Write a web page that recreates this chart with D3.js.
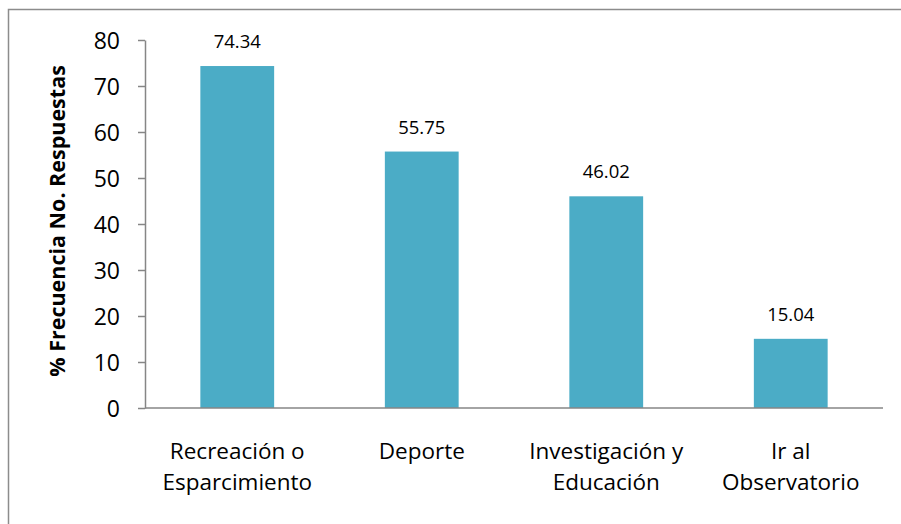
<!DOCTYPE html>
<html>
<head>
<meta charset="utf-8">
<script src="https://cdn.jsdelivr.net/npm/d3@7"></script>
<style>
  html, body { margin: 0; padding: 0; background: #fff; }
  svg { display: block; }
  text { font-family: "Open Sans", Lato, sans-serif; fill: #000; }
</style>
</head>
<body>
<svg id="chart" width="901" height="524"></svg>
<script>
// Categories (multi-line labels) and percentage values
const categories = [
  ["Recreación o", "Esparcimiento"],
  ["Deporte"],
  ["Investigación y", "Educación"],
  ["Ir al", "Observatorio"]
];
const values = [74.34, 55.75, 46.02, 15.04];
const yTicks = [0, 10, 20, 30, 40, 50, 60, 70, 80];
const yTitle = "% Frecuencia No. Respuestas";

const svg = d3.select("#chart");
const W = 901, H = 524;
const plot = { left: 145, right: 883, top: 40, bottom: 408 };
const axisColor = "#868686";
const barColor = "#4BACC6";
const font = "'Open Sans', Lato, sans-serif";

// Outer chart frame (extends past the right and bottom edge)
svg.append("rect")
  .attr("x", 8.5).attr("y", 9.5)
  .attr("width", W + 10).attr("height", H + 10)
  .attr("fill", "none").attr("stroke", "#8c8c8c").attr("stroke-width", 1.5);

const keys = categories.map((c, i) => i);
const x = d3.scaleBand().domain(keys)
  .range([plot.left, plot.right]).paddingInner(0.6).paddingOuter(0.3);
const y = d3.scaleLinear().domain([0, 80]).range([plot.bottom, plot.top]);

// Bars
svg.append("g").selectAll("rect").data(values).join("rect")
  .attr("x", (d, i) => x(i))
  .attr("y", d => y(d))
  .attr("width", x.bandwidth())
  .attr("height", d => y(0) - y(d))
  .attr("fill", barColor);

// Value labels
svg.append("g").selectAll("text").data(values).join("text")
  .attr("x", (d, i) => x(i) + x.bandwidth() / 2)
  .attr("y", d => y(d) - 18)
  .attr("text-anchor", "middle")
  .attr("font-size", 18.5)
  .text(d => d.toFixed(2));

// Y axis
const yAxis = svg.append("g")
  .attr("transform", `translate(${plot.left},0)`)
  .call(d3.axisLeft(y).tickValues(yTicks).tickSize(7).tickPadding(18).tickSizeOuter(0));
yAxis.select(".domain").attr("stroke", axisColor).attr("stroke-width", 1.5);
yAxis.selectAll(".tick line").attr("stroke", axisColor).attr("stroke-width", 1.5);
yAxis.selectAll(".tick text")
  .attr("font-size", 23).attr("font-family", font)
  .attr("fill", "#000").attr("dy", "0.36em");

// X axis baseline
const xAxis = svg.append("g")
  .attr("transform", `translate(0,${plot.bottom})`)
  .call(d3.axisBottom(x).tickSize(0).tickFormat(() => ""));
xAxis.select(".domain")
  .attr("d", `M${plot.left},0H${plot.right}`)
  .attr("stroke", axisColor).attr("stroke-width", 1.5);

// Category labels
const catG = svg.append("g");
categories.forEach((lines, i) => {
  const t = catG.append("text")
    .attr("x", x(i) + x.bandwidth() / 2)
    .attr("y", 459)
    .attr("text-anchor", "middle")
    .attr("font-size", 22.5);
  lines.forEach((ln, j) => {
    t.append("tspan")
      .attr("x", x(i) + x.bandwidth() / 2)
      .attr("dy", j === 0 ? 0 : 31)
      .text(ln);
  });
});

// Y axis title
svg.append("text")
  .attr("transform", `translate(65,${(plot.top + plot.bottom) / 2 - 3}) rotate(-90)`)
  .attr("text-anchor", "middle")
  .attr("font-size", 21.5)
  .attr("font-weight", "bold")
  .text(yTitle);
</script>
</body>
</html>
